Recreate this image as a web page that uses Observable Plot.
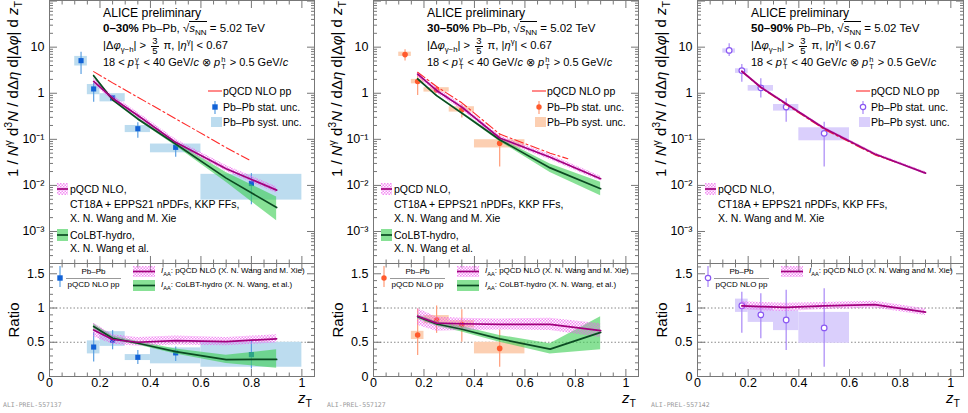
<!DOCTYPE html>
<html><head><meta charset="utf-8">
<script src="https://cdn.jsdelivr.net/npm/d3@7"></script>
<script src="https://cdn.jsdelivr.net/npm/@observablehq/plot@0.6"></script>
<style>
body{margin:0;background:#fff;font-family:"Liberation Sans",Arial,Helvetica,sans-serif;color:#000;}
#root{position:relative;width:968px;height:413px;overflow:hidden;background:#fff;}
.abs{position:absolute;white-space:nowrap;display:flex;align-items:center;}
.abs > span{line-height:1;}
sub,sup{font-size:0.7em;line-height:0;}
.ss{display:inline-flex;flex-direction:column;vertical-align:middle;font-size:0.68em;line-height:0.95;margin:0 1px;}
.fr{display:inline-flex;flex-direction:column;vertical-align:middle;text-align:center;font-size:0.85em;line-height:0.92;margin:0 2px;}
.fr > span:first-child{border-bottom:1px solid #000;padding:0 1px;}
.rot{position:absolute;white-space:nowrap;transform-origin:left top;transform:rotate(-90deg) translateX(-100%);line-height:1;}
.sw{position:absolute;}
</style></head><body>
<svg width="0" height="0" style="position:absolute"><defs>
<pattern id="hatch" width="3" height="3" patternUnits="userSpaceOnUse">
<rect x="0" y="0" width="1.5" height="1.5" fill="#ef5cef" fill-opacity="0.7"/>
<rect x="1.5" y="1.5" width="1.5" height="1.5" fill="#ef5cef" fill-opacity="0.7"/>
</pattern></defs></svg>
<div id="root"></div>
<script>
// ================= DATA =================
const centralityLabels = ["0–30%", "30–50%", "50–90%"];
const preliminaryIds = ["ALI-PREL-557137", "ALI-PREL-557127", "ALI-PREL-557142"];

const zTCentre = [0.125, 0.175, 0.25, 0.35, 0.5, 0.8];
const zTLow    = [0.10, 0.15, 0.20, 0.30, 0.40, 0.60];
const zTHigh   = [0.15, 0.20, 0.30, 0.40, 0.60, 1.00];

// per-trigger yields, 0–30%
const yield030   = [5.1, 1.24, 0.79, 0.17, 0.067, 0.011];
const stat030Lo  = [2.55, 0.64, 0.69, 0.105, 0.041, 0.0038];
const stat030Hi  = [7.8, 1.65, 0.89, 0.23, 0.086, 0.018];
const syst030Lo  = [3.9, 0.93, 0.65, 0.14, 0.051, 0.0048];
const syst030Hi  = [6.3, 1.55, 0.98, 0.20, 0.079, 0.0174];
// 30–50%
const yield3050  = [6.9, 1.8, 1.18, 0.44, 0.082];
const stat3050Lo = [5.0, 0.89, 1.05, 0.29, 0.025];
const stat3050Hi = [8.8, 2.43, 1.32, 0.56, 0.13];
const syst3050Lo = [6.3, 1.6, 1.06, 0.39, 0.065];
const syst3050Hi = [7.8, 2.0, 1.32, 0.51, 0.098];
// 50–90%
const yield5090  = [8.5, 3.1, 1.31, 0.50, 0.135];
const stat5090Lo = [6.3, 1.74, 0.79, 0.235, 0.025];
const stat5090Hi = [11.8, 4.2, 2.06, 0.76, 0.235];
const syst5090Lo = [7.4, 2.7, 1.11, 0.41, 0.093];
const syst5090Hi = [9.2, 3.4, 1.47, 0.57, 0.178];

// ratio Pb–Pb / pQCD NLO pp (bins from zT = 0.175 on)
const ratio030       = [0.43, 0.53, 0.28, 0.345, 0.32];
const ratio030StatLo = [0.21, 0.39, 0.175, 0.22, 0.11];
const ratio030StatHi = [0.645, 0.67, 0.38, 0.43, 0.53];
const ratio030SystLo = [0.33, 0.44, 0.233, 0.185, 0.135];
const ratio030SystHi = [0.52, 0.655, 0.32, 0.418, 0.50];

const ratio3050       = [0.607, 0.825, 0.757, 0.41];
const ratio3050StatLo = [0.305, 0.63, 0.50, 0.135];
const ratio3050StatHi = [0.985, 1.03, 0.975, 0.68];
const ratio3050SystLo = [0.54, 0.77, 0.71, 0.33];
const ratio3050SystHi = [0.66, 0.89, 0.815, 0.50];

const ratio5090       = [1.033, 0.90, 0.825, 0.71];
const ratio5090StatLo = [0.63, 0.55, 0.38, 0.135];
const ratio5090StatHi = [1.23, 1.21, 1.26, 1.28];
const ratio5090SystLo = [0.936, 0.79, 0.67, 0.485];
const ratio5090SystHi = [1.13, 1.03, 0.96, 0.936];

// pQCD NLO pp reference
const zTpp030  = [0.175, 0.25, 0.35, 0.5, 0.7, 0.79];
const pp030    = [2.95, 1.68, 0.82, 0.28, 0.066, 0.036];
const zTpp3050 = [0.175, 0.25, 0.35, 0.5, 0.7, 0.77];
const pp3050   = [2.86, 1.40, 0.62, 0.13, 0.05, 0.038];
const zTpp5090 = [0.175, 0.25, 0.35, 0.5, 0.7, 0.79];
const pp5090   = [2.95, 1.32, 0.57, 0.165, 0.046, 0.031];

// models on zT grid
const zTModel = [0.175, 0.25, 0.35, 0.5, 0.7, 0.9];
const nlo030    = [1.8, 0.78, 0.33, 0.086, 0.023, 0.0079];
const nlo030Lo  = [1.55, 0.68, 0.29, 0.075, 0.020, 0.0068];
const nlo030Hi  = [2.1, 0.90, 0.38, 0.10, 0.027, 0.0093];
const colbt030   = [2.4, 0.72, 0.277, 0.079, 0.0144, 0.0033];
const colbt030Lo = [2.25, 0.68, 0.26, 0.072, 0.0117, 0.0017];
const colbt030Hi = [2.55, 0.76, 0.295, 0.086, 0.019, 0.0056];

const nlo3050    = [2.6, 1.15, 0.50, 0.107, 0.041, 0.014];
const nlo3050Lo  = [2.3, 1.0, 0.44, 0.094, 0.036, 0.0123];
const nlo3050Hi  = [2.9, 1.3, 0.56, 0.12, 0.046, 0.0158];
const colbt3050   = [2.05, 0.89, 0.37, 0.098, 0.024, 0.0085];
const colbt3050Lo = [1.95, 0.85, 0.35, 0.090, 0.019, 0.006];
const colbt3050Hi = [2.15, 0.93, 0.39, 0.106, 0.029, 0.0117];

const nlo5090    = [3.0, 1.35, 0.59, 0.174, 0.048, 0.0185];
const nlo5090Lo  = [2.8, 1.26, 0.55, 0.162, 0.045, 0.0172];
const nlo5090Hi  = [3.2, 1.44, 0.63, 0.186, 0.051, 0.0198];

// model I_AA
const iaaNlo030    = [0.68, 0.54, 0.50, 0.524, 0.51, 0.55];
const iaaNlo030Lo  = [0.58, 0.47, 0.44, 0.46, 0.45, 0.49];
const iaaNlo030Hi  = [0.78, 0.61, 0.57, 0.59, 0.57, 0.61];
const iaaColbt030   = [0.73, 0.558, 0.485, 0.364, 0.247, 0.25];
const iaaColbt030Lo = [0.69, 0.53, 0.46, 0.33, 0.19, 0.12];
const iaaColbt030Hi = [0.77, 0.59, 0.51, 0.40, 0.31, 0.39];

const iaaNlo3050    = [0.88, 0.78, 0.77, 0.76, 0.76, 0.67];
const iaaNlo3050Lo  = [0.75, 0.66, 0.67, 0.68, 0.67, 0.57];
const iaaNlo3050Hi  = [0.99, 0.87, 0.85, 0.84, 0.85, 0.77];
const iaaColbt3050   = [0.873, 0.767, 0.69, 0.549, 0.40, 0.645];
const iaaColbt3050Lo = [0.84, 0.735, 0.65, 0.50, 0.33, 0.39];
const iaaColbt3050Hi = [0.90, 0.80, 0.73, 0.60, 0.48, 0.873];

const iaaNlo5090    = [1.03, 1.02, 1.01, 1.03, 1.05, 0.94];
const iaaNlo5090Lo  = [0.98, 0.96, 0.95, 0.98, 1.00, 0.89];
const iaaNlo5090Hi  = [1.09, 1.08, 1.07, 1.08, 1.10, 0.99];

// axis tick labels
const xTickLabels = ["0", "0.2", "0.4", "0.6", "0.8", "1"];
const xTickValues = [0, 0.2, 0.4, 0.6, 0.8, 1];
const logTickValues = [0.001, 0.01, 0.1, 1, 10];
const logTickLabels = ["10⁻³", "10⁻²", "10⁻¹", "1", "10"];
const ratioTickValues = [0, 0.5, 1, 1.5];
const ratioTickLabels = ["0", "0.5", "1", "1.5"];

// ================= BUILD =================
const rows = (cols) => cols[Object.keys(cols)[0]].map((_, i) => Object.fromEntries(Object.entries(cols).map(([k, a]) => [k, a[i]])));

const panels = [
  {
    pts: rows({z: zTCentre, lo: zTLow, hi: zTHigh, y: yield030, eLo: stat030Lo, eHi: stat030Hi, sLo: syst030Lo, sHi: syst030Hi}),
    rpts: rows({z: zTCentre.slice(1), lo: zTLow.slice(1), hi: zTHigh.slice(1), y: ratio030, eLo: ratio030StatLo, eHi: ratio030StatHi, sLo: ratio030SystLo, sHi: ratio030SystHi}),
    pp: rows({z: zTpp030, v: pp030}),
    nlo: rows({z: zTModel, v: nlo030, lo: nlo030Lo, hi: nlo030Hi}),
    colbt: rows({z: zTModel, v: colbt030, lo: colbt030Lo, hi: colbt030Hi}),
    iaaNlo: rows({z: zTModel, v: iaaNlo030, lo: iaaNlo030Lo, hi: iaaNlo030Hi}),
    iaaColbt: rows({z: zTModel, v: iaaColbt030, lo: iaaColbt030Lo, hi: iaaColbt030Hi}),
  },
  {
    pts: rows({z: zTCentre.slice(0,5), lo: zTLow.slice(0,5), hi: zTHigh.slice(0,5), y: yield3050, eLo: stat3050Lo, eHi: stat3050Hi, sLo: syst3050Lo, sHi: syst3050Hi}),
    rpts: rows({z: zTCentre.slice(1,5), lo: zTLow.slice(1,5), hi: zTHigh.slice(1,5), y: ratio3050, eLo: ratio3050StatLo, eHi: ratio3050StatHi, sLo: ratio3050SystLo, sHi: ratio3050SystHi}),
    pp: rows({z: zTpp3050, v: pp3050}),
    nlo: rows({z: zTModel, v: nlo3050, lo: nlo3050Lo, hi: nlo3050Hi}),
    colbt: rows({z: zTModel, v: colbt3050, lo: colbt3050Lo, hi: colbt3050Hi}),
    iaaNlo: rows({z: zTModel, v: iaaNlo3050, lo: iaaNlo3050Lo, hi: iaaNlo3050Hi}),
    iaaColbt: rows({z: zTModel, v: iaaColbt3050, lo: iaaColbt3050Lo, hi: iaaColbt3050Hi}),
  },
  {
    pts: rows({z: zTCentre.slice(0,5), lo: zTLow.slice(0,5), hi: zTHigh.slice(0,5), y: yield5090, eLo: stat5090Lo, eHi: stat5090Hi, sLo: syst5090Lo, sHi: syst5090Hi}),
    rpts: rows({z: zTCentre.slice(1,5), lo: zTLow.slice(1,5), hi: zTHigh.slice(1,5), y: ratio5090, eLo: ratio5090StatLo, eHi: ratio5090StatHi, sLo: ratio5090SystLo, sHi: ratio5090SystHi}),
    pp: rows({z: zTpp5090, v: pp5090}),
    nlo: rows({z: zTModel, v: nlo5090, lo: nlo5090Lo, hi: nlo5090Hi}),
    colbt: null,
    iaaNlo: rows({z: zTModel, v: iaaNlo5090, lo: iaaNlo5090Lo, hi: iaaNlo5090Hi}),
    iaaColbt: null,
  }
];

const styles = [
  {marker: "square", fill: "#1262d6", stroke: "none", stat: "#5b9fe2", syst: "#bcdcef"},
  {marker: "circle", fill: "#ff5a2c", stroke: "none", stat: "#ff9c78", syst: "#fccfb2"},
  {marker: "circle", fill: "white", stroke: "#8a58f2", stat: "#a887f6", syst: "#dacffc"}
];

const FONT = '"Liberation Sans", Arial, Helvetica, sans-serif';
const TICK = "#777";
const GREEN_LINE = "#0b4a22", GREEN_BAND = "#3fcf55", GREEN_OP = 0.62, MAG_LINE = "#a1007d", PP_RED = "#ff2a2a";
const X0 = [0, 324, 648];
const W = [324, 324, 320];
const MR = [10, 10, 5];
const UPPER_H = 263, LOWER_H = 150;

const root = document.getElementById("root");

const logMajor = [1e-3, 1e-2, 1e-1, 1, 10, 100];
const logMinor = [];
for (let e = -4; e <= 2; e++) for (let k = 2; k <= 9; k++) { const v = k * Math.pow(10, e); if (v > 2.02e-4 && v < 103) logMinor.push(v); }
const xMinor = d3.range(0, 1.051, 0.05).filter(v => Math.abs(v * 5 - Math.round(v * 5)) > 1e-6);
const ratioMinor = d3.range(0, 1.66, 0.1).filter(v => Math.abs(v * 2 - Math.round(v * 2)) > 1e-6);
const blank = () => "";

function frameTicks(yMajor, yMinor) {
  return [
    Plot.axisY({ticks: yMajor, tickSize: -8, tickFormat: blank, stroke: TICK, label: null}),
    Plot.axisY({ticks: yMinor, tickSize: -4, tickFormat: blank, stroke: TICK, label: null}),
    Plot.axisY({anchor: "right", ticks: yMajor, tickSize: -8, tickFormat: blank, stroke: TICK, label: null}),
    Plot.axisY({anchor: "right", ticks: yMinor, tickSize: -4, tickFormat: blank, stroke: TICK, label: null}),
    Plot.axisX({anchor: "bottom", ticks: xTickValues, tickSize: -7, tickFormat: blank, stroke: TICK, label: null}),
    Plot.axisX({anchor: "bottom", ticks: xMinor, tickSize: -3.5, tickFormat: blank, stroke: TICK, label: null}),
    Plot.axisX({anchor: "top", ticks: xTickValues, tickSize: -7, tickFormat: blank, stroke: TICK, label: null}),
    Plot.axisX({anchor: "top", ticks: xMinor, tickSize: -3.5, tickFormat: blank, stroke: TICK, label: null}),
    Plot.frame({stroke: TICK})
  ];
}

function dataMarks(pts, st) {
  return [
    Plot.rect(pts, {x1: "lo", x2: "hi", y1: "sLo", y2: "sHi", fill: st.syst}),
    Plot.ruleX(pts, {x: "z", y1: "eLo", y2: "eHi", stroke: st.stat, strokeWidth: 1.2}),
    Plot.dot(pts, {x: "z", y: "y", symbol: st.marker, r: st.marker === "square" ? 2.9 : 2.8, fill: st.fill, stroke: st.stroke, strokeWidth: 1.2})
  ];
}

function modelMarks(nlo, colbt, pp) {
  const m = [];
  if (colbt) m.push(Plot.areaY(colbt, {x: "z", y1: "lo", y2: "hi", fill: GREEN_BAND, fillOpacity: GREEN_OP}));
  m.push(Plot.areaY(nlo, {x: "z", y1: "lo", y2: "hi", fill: "url(#hatch)"}));
  if (pp) m.push(Plot.line(pp, {x: "z", y: "v", stroke: PP_RED, strokeWidth: 1.1, strokeDasharray: "9,3,2,3"}));
  if (colbt) m.push(Plot.line(colbt, {x: "z", y: "v", stroke: GREEN_LINE, strokeWidth: 1.7}));
  m.push(Plot.line(nlo, {x: "z", y: "v", stroke: MAG_LINE, strokeWidth: 1.7}));
  return m;
}

function mount(svg, left, top) {
  svg.style.position = "absolute";
  svg.style.left = left + "px";
  svg.style.top = top + "px";
  root.appendChild(svg);
}

panels.forEach((p, i) => {
  const st = styles[i];
  const upper = Plot.plot({
    width: W[i], height: UPPER_H,
    marginLeft: 49, marginRight: MR[i], marginTop: 0, marginBottom: 0,
    style: {fontFamily: FONT, fontSize: "12.5px", background: "transparent", overflow: "visible", color: "#000"},
    x: {domain: [0, 1.05]},
    y: {type: "log", domain: [2.02e-4, 103]},
    marks: [
      ...dataMarks(p.pts, st),
      ...modelMarks(p.nlo, p.colbt, p.pp),
      ...frameTicks(logMajor, logMinor),
      Plot.axisY({ticks: logTickValues, tickSize: 0, tickPadding: 5, tickFormat: d => logTickLabels[logTickValues.indexOf(d)], label: null, fill: "#000"})
    ]
  });
  mount(upper, X0[i], 0);

  const lower = Plot.plot({
    width: W[i], height: LOWER_H,
    marginLeft: 49, marginRight: MR[i], marginTop: 0, marginBottom: 37,
    style: {fontFamily: FONT, fontSize: "12.5px", background: "transparent", overflow: "visible", color: "#000"},
    x: {domain: [0, 1.05]},
    y: {domain: [0, 1.65]},
    marks: [
      Plot.ruleY([0.5, 1], {stroke: "#888", strokeDasharray: "1.5,2"}),
      ...dataMarks(p.rpts, st),
      ...modelMarks(p.iaaNlo, p.iaaColbt, null),
      ...frameTicks(ratioTickValues, ratioMinor),
      Plot.axisY({ticks: ratioTickValues, tickSize: 0, tickPadding: 5, tickFormat: d => ratioTickLabels[ratioTickValues.indexOf(d)], label: null, fill: "#000"}),
      Plot.axisX({ticks: xTickValues, tickSize: 0, tickPadding: 2, tickFormat: d => xTickLabels[xTickValues.indexOf(d)], label: null, fill: "#000"})
    ]
  });
  mount(lower, X0[i], UPPER_H);
});

// ================= TEXT =================
function txt(html, left, cy, size, extra = "") {
  const d = document.createElement("div");
  d.className = "abs";
  const h = Math.round(size * 1.25);
  d.style.left = left + "px";
  d.style.top = (cy - h / 2) + "px";
  d.style.height = h + "px";
  d.style.fontSize = size + "px";
  if (extra) d.style.cssText += extra;
  d.innerHTML = "<span>" + html + "</span>";
  root.appendChild(d);
  return d;
}
function svgSwatch(left, top, w, h, inner) {
  const d = document.createElement("div");
  d.className = "sw";
  d.style.left = left + "px"; d.style.top = top + "px";
  d.innerHTML = `<svg width="${w}" height="${h}" style="display:block;overflow:visible">${inner}</svg>`;
  root.appendChild(d);
}
function markerSvg(st, cx, cy, r) {
  return st.marker === "square"
    ? `<rect x="${cx - r}" y="${cy - r}" width="${2 * r}" height="${2 * r}" fill="${st.fill}"/>`
    : `<circle cx="${cx}" cy="${cy}" r="${r}" fill="${st.fill}" stroke="${st.stroke}" stroke-width="1.2"/>`;
}

panels.forEach((p, i) => {
  const x0 = X0[i], st = styles[i];
  // header
  const hx = x0 + 103;
  txt("ALICE preliminary", hx, 13, 12.2);
  txt(`<b>${centralityLabels[i]}</b> Pb–Pb, √<span style="border-top:1px solid #000"><i>s</i><sub>NN</sub></span> = 5.02 TeV`, hx, 29, 11.5);
  txt(`|Δ<i>φ</i><sub>γ−h</sub>| &gt; <span class="fr"><span>3</span><span>5</span></span> π, |<i>η</i><sup>γ</sup>| &lt; 0.67`, hx, 46, 11.2);
  txt(`18 &lt; <i>p</i><span class="ss"><span>γ</span><span>T</span></span> &lt; 40 GeV/<i>c</i> ⊗ <i>p</i><span class="ss"><span>h</span><span>T</span></span> &gt; 0.5 GeV/<i>c</i>`, hx, 63, 11);

  // right legend
  svgSwatch(x0 + 208, 85, 16, 12, `<line x1="0" y1="6" x2="14" y2="6" stroke="${PP_RED}" stroke-width="1.1"/>`);
  txt("pQCD NLO pp", x0 + 223, 91, 10.5);
  svgSwatch(x0 + 209, 100, 14, 16, `<line x1="6" y1="1" x2="6" y2="14" stroke="${st.stat}" stroke-width="1.2"/>${markerSvg(st, 6, 7, 2.7)}`);
  txt("Pb–Pb stat. unc.", x0 + 223, 107, 10.5);
  svgSwatch(x0 + 211, 117, 12, 10, `<rect x="0" y="0" width="11" height="10" fill="${st.syst}"/>`);
  txt("Pb–Pb syst. unc.", x0 + 223, 122, 10.5);

  // lower-left legend
  svgSwatch(x0 + 57, 183, 12, 12, `<rect x="0" y="0" width="11" height="12" fill="url(#hatch)"/><line x1="0" y1="6" x2="11" y2="6" stroke="${MAG_LINE}" stroke-width="1.7"/>`);
  txt("pQCD NLO,", x0 + 70, 189, 10.5);
  txt("CT18A + EPPS21 nPDFs, KKP FFs,", x0 + 70, 204, 10.5);
  txt("X. N. Wang and M. Xie", x0 + 70, 218, 10.5);
  if (p.colbt) {
    svgSwatch(x0 + 57, 229, 12, 12, `<rect x="0" y="0" width="11" height="12" fill="${GREEN_BAND}" fill-opacity="${GREEN_OP}"/><line x1="0" y1="6" x2="11" y2="6" stroke="${GREEN_LINE}" stroke-width="1.7"/>`);
    txt("CoLBT-hydro,", x0 + 70, 235, 10.5);
    txt("X. N. Wang et al.", x0 + 70, 248, 10.5);
  }

  // ratio legend
  svgSwatch(x0 + 55, 266, 12, 22, `<line x1="5" y1="0" x2="5" y2="21" stroke="${st.stat}" stroke-width="1.2"/>${markerSvg(st, 5, 12, 2.7)}`);
  const fr = document.createElement("div");
  fr.style.cssText = `position:absolute;left:${x0 + 66}px;top:267px;width:55px;text-align:center;font-size:8px;line-height:1.25;white-space:nowrap;`;
  fr.innerHTML = `<div style="border-bottom:1px solid #999;padding-bottom:1px">Pb–Pb</div><div style="padding-top:1px">pQCD NLO pp</div>`;
  root.appendChild(fr);
  svgSwatch(x0 + 133, 266, 23, 11, `<rect x="0" y="0" width="22" height="11" fill="url(#hatch)"/><line x1="0" y1="5.5" x2="22" y2="5.5" stroke="${MAG_LINE}" stroke-width="1.7"/>`);
  txt(`<i>I</i><sub>AA</sub>: pQCD NLO (X. N. Wang and M. Xie)`, x0 + 161, 271, 8);
  if (p.iaaColbt) {
    svgSwatch(x0 + 133, 280, 23, 11, `<rect x="0" y="0" width="22" height="11" fill="${GREEN_BAND}" fill-opacity="${GREEN_OP}"/><line x1="0" y1="5.5" x2="22" y2="5.5" stroke="${GREEN_LINE}" stroke-width="1.7"/>`);
    txt(`<i>I</i><sub>AA</sub>: CoLBT-hydro (X. N. Wang, et al.)`, x0 + 161, 285, 8);
  }

  // axis titles
  const yt = document.createElement("div");
  yt.className = "rot";
  yt.style.left = (x0 + 5) + "px";
  yt.style.top = "1px";
  yt.style.fontSize = "15px";
  yt.innerHTML = `1 / <i>N</i><sup>γ</sup> d<sup>3</sup><i>N</i> / dΔ<i>η</i> d|Δ<i>φ</i>| d <i>z</i><sub>T</sub>`;
  root.appendChild(yt);

  const rt = document.createElement("div");
  rt.style.cssText = `position:absolute;left:${x0 + 13}px;top:320px;font-size:15px;line-height:1;white-space:nowrap;transform:translate(-50%,-50%) rotate(-90deg);`;
  rt.textContent = "Ratio";
  root.appendChild(rt);

  txt(`<i>z</i><sub>T</sub>`, x0 + 298, 397, 15);
  txt(preliminaryIds[i], x0 + 3, 405, 6.5, "font-family:'DejaVu Sans Mono',monospace;color:#999;");
});
</script>
</body></html>
